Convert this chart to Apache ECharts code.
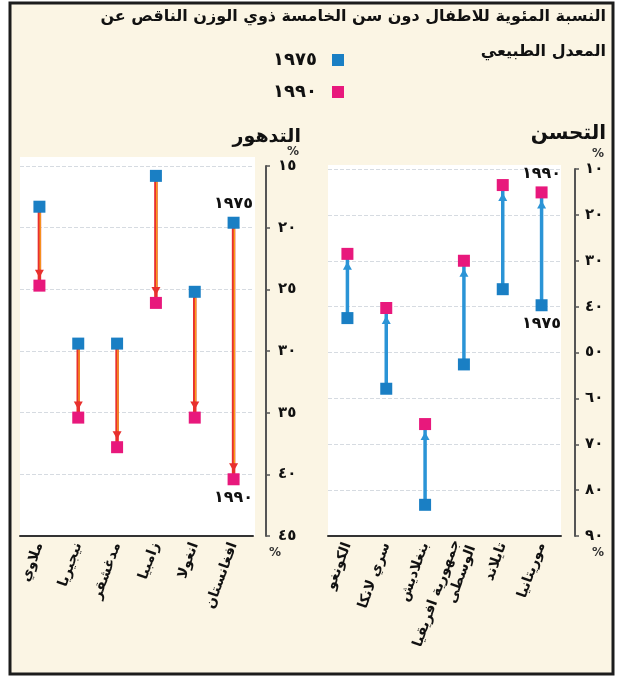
<!DOCTYPE html>
<html><head><meta charset="utf-8">
<script src="https://cdn.jsdelivr.net/npm/echarts@6/dist/echarts.min.js"></script>
<style>html,body{margin:0;padding:0;background:#fff}#c{width:623px;height:680px}</style>
</head><body><div id="c"></div>
<script>
// ---- data ----
const catsWorse = ['ملاوي', 'نيجيريا', 'مدغشقر', 'زامبيا', 'انغولا', 'افغانستان'];
const worse1975 = [18.3, 29.4, 29.4, 15.8, 25.2, 19.6];
const worse1990 = [24.7, 35.4, 37.8, 26.1, 35.4, 40.4];
const catsBetter = ['الكونغو', 'سري لانكا', 'بنغلاديش', 'جمهورية افريقيا\nالوسطى', 'تايلاند', 'موريتانيا'];
const better1975 = [42.5, 57.9, 83.2, 52.6, 36.2, 39.7];
const better1990 = [28.5, 40.3, 65.6, 30.0, 13.5, 15.1];
const yearNames = ['١٩٧٥', '١٩٩٠'];
const titleLines = ['النسبة المئوية للاطفال دون سن الخامسة ذوي الوزن الناقص عن', 'المعدل الطبيعي'];
const panelTitles = ['التدهور', 'التحسن'];

const FONT = '"DejaVu Sans", sans-serif';
const BLUE = '#1a7fc4', PINK = '#e8187c';
const toAr = s => String(s).replace(/\d/g, d => '٠١٢٣٤٥٦٧٨٩'[d]);

function dumbbell(lineColor, innerColor) {
  return function (params, api) {
    const i = api.value(0);
    const p0 = api.coord([i, api.value(1)]);
    const p1 = api.coord([i, api.value(2)]);
    const dir = p1[1] > p0[1] ? 1 : -1;
    const x = p0[0];
    const tip = p1[1] - dir * 8;
    const base = tip - dir * 8;
    const children = [
      {type: 'line', shape: {x1: x, y1: p0[1], x2: x, y2: p1[1]}, style: {stroke: lineColor, lineWidth: 3.5}}
    ];
    if (innerColor) children.push({type: 'line', shape: {x1: x + 0.8, y1: p0[1] + dir * 6, x2: x + 0.8, y2: base}, style: {stroke: innerColor, lineWidth: 1.3}});
    children.push({type: 'polygon', shape: {points: [[x - 4.5, base], [x + 4.5, base], [x, tip]]}, style: {fill: lineColor}});
    return {type: 'group', children};
  };
}

function pts(vals, labelIdx, pos) {
  return vals.map((v, i) => i === labelIdx ? {value: [i, v], label: {show: true, position: pos}} : [i, v]);
}

const scatterLabel = {show: false, color: '#111', fontFamily: FONT, fontWeight: 'bold', fontSize: 16, distance: 5,
  formatter: p => p.seriesName};

const catAxis = (cats, gi) => ({
  type: 'category', gridIndex: gi, data: cats,
  axisLine: {lineStyle: {color: '#333', width: 2}},
  axisTick: {length: 5, lineStyle: {color: '#333', width: 1.5}},
  axisLabel: {rotate: 70, margin: 7, color: '#111', fontFamily: FONT, fontWeight: 'bold', fontSize: 14, lineHeight: 17},
  splitLine: {show: false}
});
const valAxis = (gi, min, max, interval, offset, margin) => ({
  type: 'value', gridIndex: gi, position: 'right', inverse: true, min, max, interval, offset,
  axisLine: {show: true, lineStyle: {color: '#555', width: 2}},
  axisTick: {show: true, length: 4, lineStyle: {color: '#555', width: 1.5}},
  axisLabel: {color: '#111', fontFamily: FONT, fontWeight: 'bold', fontSize: 15, margin, formatter: v => toAr(v)},
  splitLine: {show: true, lineStyle: {color: '#d6dbe1', type: 'dashed', width: 1}}
});

const chart = echarts.init(document.getElementById('c'), null, {renderer: 'canvas'});
chart.setOption({
  backgroundColor: '#ffffff',
  animation: false,
  graphic: [
    {type: 'rect', z: -20, shape: {x: 10, y: 3, width: 603, height: 671}, style: {fill: '#fbf5e4', stroke: '#1c1c1c', lineWidth: 3}},
    {type: 'rect', z: -19, shape: {x: 20, y: 157, width: 235, height: 379}, style: {fill: '#ffffff'}},
    {type: 'rect', z: -19, shape: {x: 328, y: 165, width: 233, height: 371}, style: {fill: '#ffffff'}},
    {type: 'text', x: 606, y: 17, style: {text: titleLines[0], textAlign: 'right', textVerticalAlign: 'middle', font: 'bold 16px ' + FONT, fill: '#111'}},
    {type: 'text', x: 606, y: 52, style: {text: titleLines[1], textAlign: 'right', textVerticalAlign: 'middle', font: 'bold 16px ' + FONT, fill: '#111'}},
    {type: 'text', x: 301, y: 137, style: {text: panelTitles[0], textAlign: 'right', textVerticalAlign: 'middle', font: 'bold 19px ' + FONT, fill: '#111'}},
    {type: 'text', x: 606, y: 134, style: {text: panelTitles[1], textAlign: 'right', textVerticalAlign: 'middle', font: 'bold 20px ' + FONT, fill: '#111'}},
    {type: 'text', x: 293, y: 152, style: {text: '%', textAlign: 'center', textVerticalAlign: 'middle', font: 'bold 12px ' + FONT, fill: '#333'}},
    {type: 'text', x: 598, y: 154, style: {text: '%', textAlign: 'center', textVerticalAlign: 'middle', font: 'bold 12px ' + FONT, fill: '#333'}},
    {type: 'text', x: 275, y: 553, style: {text: '%', textAlign: 'center', textVerticalAlign: 'middle', font: 'bold 12px ' + FONT, fill: '#333'}},
    {type: 'text', x: 598, y: 553, style: {text: '%', textAlign: 'center', textVerticalAlign: 'middle', font: 'bold 12px ' + FONT, fill: '#333'}}
  ],
  legend: {
    orient: 'vertical', right: 274, top: 46, align: 'right', itemWidth: 12, itemHeight: 12, itemGap: 14,
    icon: 'rect', data: yearNames,
    textStyle: {color: '#111', fontFamily: FONT, fontWeight: 'bold', fontSize: 18, padding: [0, 10, 0, 0]}
  },
  grid: [
    {left: 20, right: 370, top: 166, bottom: 144, containLabel: false},
    {left: 328, right: 62, top: 169, bottom: 144, containLabel: false}
  ],
  xAxis: [catAxis(catsWorse, 0), catAxis(catsBetter, 1)],
  yAxis: [valAxis(0, 15, 45, 5, 13, 12), valAxis(1, 10, 90, 10, 14, 10)],
  series: [
    {type: 'custom', xAxisIndex: 0, yAxisIndex: 0, z: 1, renderItem: dumbbell('#e8302e', '#f7a21b'),
      encode: {x: 0, y: [1, 2]}, data: catsWorse.map((c, i) => [i, worse1975[i], worse1990[i]])},
    {type: 'custom', xAxisIndex: 1, yAxisIndex: 1, z: 1, renderItem: dumbbell('#2b94d6', null),
      encode: {x: 0, y: [1, 2]}, data: catsBetter.map((c, i) => [i, better1975[i], better1990[i]])},
    {type: 'scatter', name: yearNames[0], xAxisIndex: 0, yAxisIndex: 0, z: 3, symbol: 'rect', symbolSize: 12,
      itemStyle: {color: BLUE, opacity: 1}, label: scatterLabel, data: pts(worse1975, 5, 'top')},
    {type: 'scatter', name: yearNames[1], xAxisIndex: 0, yAxisIndex: 0, z: 3, symbol: 'rect', symbolSize: 12,
      itemStyle: {color: PINK, opacity: 1}, label: scatterLabel, data: pts(worse1990, 5, 'bottom')},
    {type: 'scatter', name: yearNames[0], xAxisIndex: 1, yAxisIndex: 1, z: 3, symbol: 'rect', symbolSize: 12,
      itemStyle: {color: BLUE, opacity: 1}, label: scatterLabel, data: pts(better1975, 5, 'bottom')},
    {type: 'scatter', name: yearNames[1], xAxisIndex: 1, yAxisIndex: 1, z: 3, symbol: 'rect', symbolSize: 12,
      itemStyle: {color: PINK, opacity: 1}, label: scatterLabel, data: pts(better1990, 5, 'top')}
  ]
});
</script></body></html>
